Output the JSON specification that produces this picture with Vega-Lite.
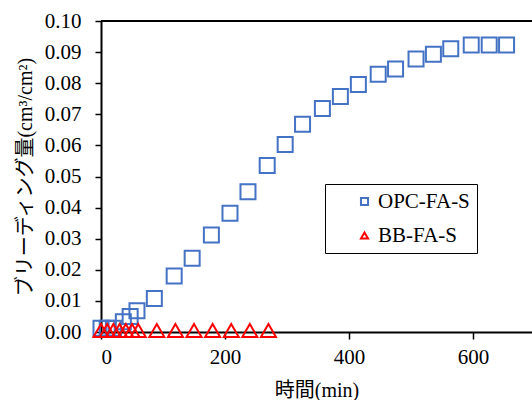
{
  "$schema": "https://vega.github.io/schema/vega-lite/v6.json",
  "width": 431,
  "height": 311,
  "autosize": {"type": "none"},
  "padding": {"left": 101, "top": 21, "right": 0, "bottom": 68},
  "background": "white",
  "config": {
    "view": {"stroke": null}
  },
  "data": {
    "values": [
      {"t": 0, "v": 0.0012, "s": "OPC-FA-S"},
      {"t": 10, "v": 0.0012, "s": "OPC-FA-S"},
      {"t": 20, "v": 0.0012, "s": "OPC-FA-S"},
      {"t": 36, "v": 0.0033, "s": "OPC-FA-S"},
      {"t": 47, "v": 0.005, "s": "OPC-FA-S"},
      {"t": 58, "v": 0.0068, "s": "OPC-FA-S"},
      {"t": 86, "v": 0.0108, "s": "OPC-FA-S"},
      {"t": 118, "v": 0.018, "s": "OPC-FA-S"},
      {"t": 147, "v": 0.0237, "s": "OPC-FA-S"},
      {"t": 178, "v": 0.0312, "s": "OPC-FA-S"},
      {"t": 208, "v": 0.0382, "s": "OPC-FA-S"},
      {"t": 237, "v": 0.0451, "s": "OPC-FA-S"},
      {"t": 268, "v": 0.0535, "s": "OPC-FA-S"},
      {"t": 297, "v": 0.0603, "s": "OPC-FA-S"},
      {"t": 325, "v": 0.0668, "s": "OPC-FA-S"},
      {"t": 357, "v": 0.0719, "s": "OPC-FA-S"},
      {"t": 386, "v": 0.0757, "s": "OPC-FA-S"},
      {"t": 415, "v": 0.0796, "s": "OPC-FA-S"},
      {"t": 447, "v": 0.0829, "s": "OPC-FA-S"},
      {"t": 475, "v": 0.0846, "s": "OPC-FA-S"},
      {"t": 508, "v": 0.0878, "s": "OPC-FA-S"},
      {"t": 536, "v": 0.0893, "s": "OPC-FA-S"},
      {"t": 564, "v": 0.0911, "s": "OPC-FA-S"},
      {"t": 597, "v": 0.0923, "s": "OPC-FA-S"},
      {"t": 626, "v": 0.0923, "s": "OPC-FA-S"},
      {"t": 654, "v": 0.0923, "s": "OPC-FA-S"},
      {"t": 0, "v": 0.0005, "s": "BB-FA-S"},
      {"t": 10, "v": 0.0005, "s": "BB-FA-S"},
      {"t": 20, "v": 0.0005, "s": "BB-FA-S"},
      {"t": 30, "v": 0.0005, "s": "BB-FA-S"},
      {"t": 40, "v": 0.0005, "s": "BB-FA-S"},
      {"t": 50, "v": 0.0005, "s": "BB-FA-S"},
      {"t": 60, "v": 0.0005, "s": "BB-FA-S"},
      {"t": 90, "v": 0.0005, "s": "BB-FA-S"},
      {"t": 120, "v": 0.0005, "s": "BB-FA-S"},
      {"t": 150, "v": 0.0005, "s": "BB-FA-S"},
      {"t": 180, "v": 0.0005, "s": "BB-FA-S"},
      {"t": 210, "v": 0.0005, "s": "BB-FA-S"},
      {"t": 240, "v": 0.0005, "s": "BB-FA-S"},
      {"t": 270, "v": 0.0005, "s": "BB-FA-S"}
    ]
  },
  "layer": [
    {
      "mark": {"type": "rule", "color": "black", "strokeWidth": 2},
      "encoding": {"y": {"datum": 0.1, "type": "quantitative"}}
    },
    {
      "mark": {"type": "point", "filled": false, "strokeWidth": 2, "size": 225, "opacity": 1},
      "encoding": {
        "x": {
          "field": "t",
          "type": "quantitative",
          "scale": {"domain": [0, 695], "nice": false, "zero": false},
          "axis": {
            "title": "時間(min)",
            "values": [0, 200, 400, 600],
            "tickCount": 4,
            "grid": false,
            "domainColor": "black",
            "domainWidth": 2,
            "tickColor": "black",
            "tickWidth": 1.5,
            "tickSize": 7,
            "labelColor": "black",
            "labelFont": "Liberation Serif",
            "labelFontSize": 21,
            "labelPadding": 7,
            "titleColor": "black",
            "titleFont": "Liberation Serif, Noto Sans CJK JP",
            "titleFontSize": 20,
            "titleFontWeight": "normal",
            "titlePadding": 13
          }
        },
        "y": {
          "field": "v",
          "type": "quantitative",
          "scale": {"domain": [0, 0.1], "nice": false},
          "axis": {
            "title": "ブリーディング量(cm³/cm²)",
            "values": [0, 0.01, 0.02, 0.03, 0.04, 0.05, 0.06, 0.07, 0.08, 0.09, 0.1],
            "tickCount": 11,
            "format": ".2f",
            "grid": false,
            "labelOverlap": false,
            "domainColor": "black",
            "domainWidth": 2,
            "tickColor": "black",
            "tickWidth": 1.5,
            "tickSize": 6,
            "labelColor": "black",
            "labelFont": "Liberation Serif",
            "labelFontSize": 21,
            "labelPadding": 14,
            "titleColor": "black",
            "titleFont": "Liberation Serif, Noto Sans CJK JP",
            "titleFontSize": 20,
            "titleFontWeight": "normal",
            "titlePadding": 9
          }
        },
        "color": {
          "field": "s",
          "type": "nominal",
          "scale": {"domain": ["OPC-FA-S", "BB-FA-S"], "range": ["#4472C4", "#FF0000"]},
          "legend": {
            "title": null,
            "orient": "none",
            "legendX": 224,
            "legendY": 163,
            "strokeColor": "black",
            "fillColor": "white",
            "padding": 7,
            "rowPadding": 12,
            "symbolOffset": 22,
            "labelOffset": 3,
            "symbolSize": 50,
            "symbolStrokeWidth": 2,
            "labelFont": "Liberation Serif",
            "labelFontSize": 21,
            "labelColor": "black"
          }
        },
        "shape": {
          "field": "s",
          "type": "nominal",
          "scale": {"domain": ["OPC-FA-S", "BB-FA-S"], "range": ["square", "triangle-up"]}
        }
      }
    }
  ]
}
